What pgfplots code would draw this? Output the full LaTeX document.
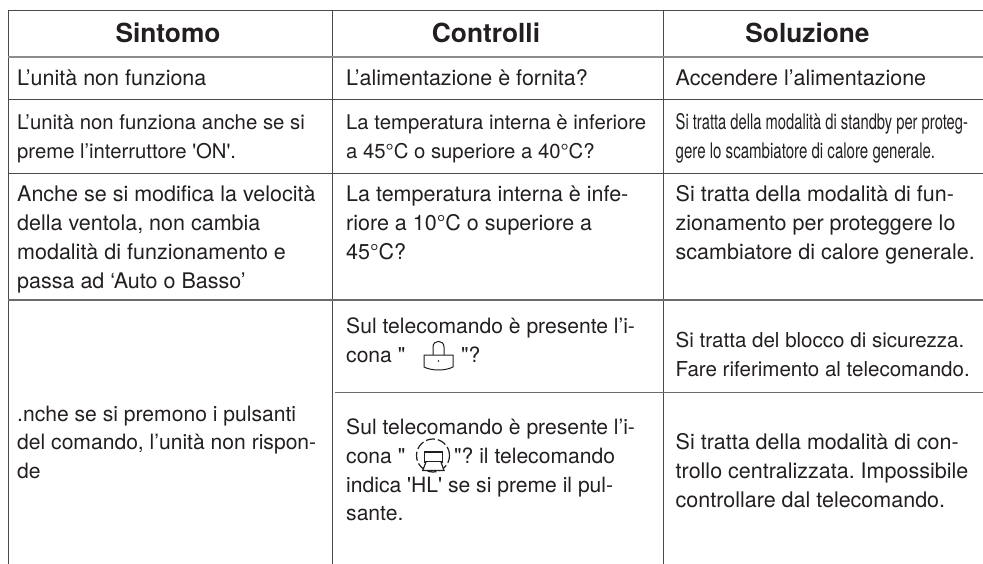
\documentclass[border=0pt]{standalone}
\usepackage{pgfplots}
\pgfplotsset{compat=1.18}
\usepackage{fontspec}
\setmainfont{TeX Gyre Heros}
\frenchspacing
\definecolor{ink}{HTML}{231F20}
\definecolor{rule}{HTML}{4A4A4A}
\definecolor{hrule}{HTML}{8C8C8C}
\newcommand{\Ts}[4]{\node[anchor=base west,inner sep=0pt,text=ink,font=\fontsize{#1}{29}\selectfont] at (axis cs:#2,#3) {#4};}
\newcommand{\T}[3]{\Ts{21.5}{#1}{#2}{#3}}
\newcommand{\U}[3]{\Ts{21.1}{#1}{#2}{#3}}
\newcommand{\C}[4]{\node[anchor=base west,inner sep=0pt,text=ink,font=\fontsize{21.5}{29}\selectfont] at (axis cs:#2,#3) {\scalebox{#1}[1]{#4}};}
\newcommand{\Hd}[3]{\node[anchor=base,inner sep=0pt,text=ink,font=\fontsize{26.3}{30}\selectfont\bfseries] at (axis cs:#1,#2) {#3};}
\begin{document}
\begin{tikzpicture}
\begin{axis}[
  hide axis, scale only axis, width=983pt, height=564pt,
  xmin=0, xmax=983, ymin=0, ymax=564, y dir=reverse,
  clip=true, cycle list={{rule}},
  every axis plot/.append style={forget plot, no markers, line width=1pt},
]
% table rules
\addplot[rule] coordinates {(8,11) (983,11)};
\addplot[rule] coordinates {(8,11) (8,564)};
\addplot[rule] coordinates {(332.5,11) (332.5,564)};
\addplot[rule] coordinates {(663.5,11) (663.5,564)};
\addplot[hrule, line width=2pt] coordinates {(8,57) (983,57)};
\addplot[rule] coordinates {(8,100) (983,100)};
\addplot[rule] coordinates {(8,174) (983,174)};
\addplot[hrule!50!rule, line width=1.2pt] coordinates {(8,300) (983,300)};
\addplot[hrule!50!rule, line width=1.2pt] coordinates {(335,392.5) (983,392.5)};
% headers
\Hd{168}{43}{Sintomo}
\Hd{486}{43}{Controlli}
\Hd{807.5}{43}{Soluzione}
% row 1
\T{17}{86}{L’unità non funziona}
\T{346}{86}{L’alimentazione è fornita?}
\T{675.5}{86}{Accendere l’alimentazione}
% row 2
\Ts{20.35}{17}{130}{L’unità non funziona anche se si}
\Ts{20.3}{17}{159}{preme l’interruttore \textquotesingle ON\textquotesingle.}
\Ts{20.3}{346}{130}{La temperatura interna è inferiore}
\Ts{20.3}{346}{159}{a 45°C o superiore a 40°C?}
\C{0.685}{675.5}{130}{Si tratta della modalità di standby per proteg-}
\C{0.70}{675.5}{159}{gere lo scambiatore di calore generale.}
% row 3
\T{17}{202}{Anche se si modifica la velocità}
\T{17}{231}{della ventola, non cambia}
\T{17}{260}{modalità di funzionamento e}
\T{17}{288.5}{passa ad ‘Auto o Basso’}
\T{346}{202}{La temperatura interna è infe-}
\T{346}{231}{riore a 10°C o superiore a}
\T{346}{260}{45°C?}
\T{675.5}{202}{Si tratta della modalità di fun-}
\T{675.5}{231}{zionamento per proteggere lo}
\T{675.5}{260}{scambiatore di calore generale.}
% row 4
\U{17}{421}{.nche se si premono i pulsanti}
\U{17}{449.5}{del comando, l’unità non rispon-}
\U{17}{478}{de}
\U{346}{333}{Sul telecomando è presente l’i-}
\U{346}{362}{cona \textquotedbl}
\U{461}{362}{\textquotedbl ?}
\Ts{20.55}{675.5}{347}{Si tratta del blocco di sicurezza.}
\Ts{20.55}{675.5}{376}{Fare riferimento al telecomando.}
\U{346}{434}{Sul telecomando è presente l’i-}
\U{346}{463}{cona \textquotedbl}
\U{454}{463}{\textquotedbl ? il telecomando}
\U{346}{492}{indica \textquotesingle HL\textquotesingle{} se si preme il pul-}
\U{346}{520}{sante.}
\T{675.5}{449}{Si tratta della modalità di con-}
\T{675.5}{478}{trollo centralizzata. Impossibile}
\T{675.5}{507}{controllare dal telecomando.}
% lock icon
\draw[ink,line width=1pt] (axis cs:424,355) -- (axis cs:453,355) -- (axis cs:453,367)
  .. controls (axis cs:445,371) and (axis cs:432,371) .. (axis cs:424,367) -- cycle;
\draw[ink,line width=1pt] (axis cs:433,355) -- (axis cs:433,347)
  .. controls (axis cs:433,339.5) and (axis cs:444,339.5) .. (axis cs:444,347) -- (axis cs:444,355);
\fill[ink] (axis cs:438.5,361) circle (0.9pt);
% centralised control icon
\draw[ink,line width=1.2pt,dash pattern=on 9pt off 3pt] (axis cs:433,455.5) circle (16.5pt);
\draw[ink,line width=1.2pt,fill=white] (axis cs:424.3,452) rectangle (axis cs:442.7,462);
\draw[ink,line width=1.2pt,fill=white] (axis cs:426,462) -- (axis cs:422.7,470.5) -- (axis cs:444,470.5) -- (axis cs:441,462);
\end{axis}
\pgfresetboundingbox
\path[use as bounding box] (0,0) rectangle (983pt,564pt);
\end{tikzpicture}
\end{document}
